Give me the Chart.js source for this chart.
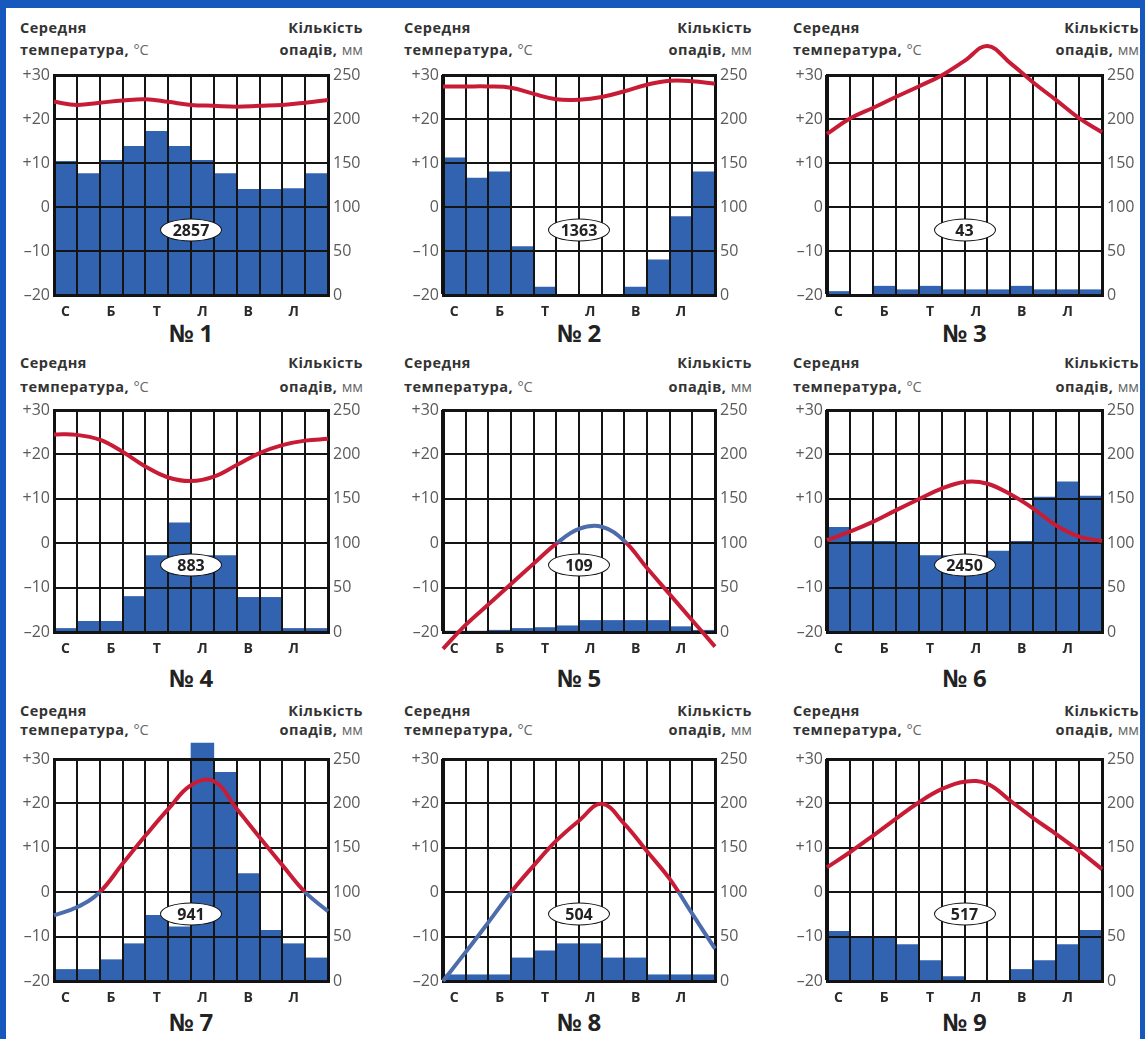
<!DOCTYPE html>
<html>
<head>
<meta charset="utf-8">
<script src="https://cdn.jsdelivr.net/npm/chart.js@4.4.0/dist/chart.umd.min.js"></script>
<style>
  body { margin: 0; width: 1145px; height: 1039px; background: #1658bd; overflow: hidden; font-family: 'Open Sans', sans-serif; }
  #sheet { position: absolute; left: 6px; top: 8px; width: 1134px; height: 1031px; background: #fff; }
  canvas { position: absolute; }
  .txt { position: absolute; white-space: nowrap; line-height: 1; color: #333; transform: translateY(-50%); }
  .hdr { font-size: 14.5px; font-weight: 700; letter-spacing: 0.5px; }
  .unit { font-weight: 400; color: #666; letter-spacing: 0; }
  .num { font-size: 24px; font-weight: 700; color: #222; transform: translate(-50%, -50%); }
  .oval { position: absolute; width: 60px; height: 21px; border: 1.5px solid #111; border-radius: 50%; background: #fff;
          font-size: 16px; font-weight: 700; color: #222; text-align: center; line-height: 21px; transform: translate(-50%, -50%); }
</style>
</head>
<body>
<div id="sheet"></div>
<script>
// month labels under the plot (every second month is named)
const months = ['С', '', 'Б', '', 'Т', '', 'Л', '', 'В', '', 'Л', ''];

// precipitation, mm per month
const precip1 = [152, 138, 153, 169, 186, 169, 153, 138, 120, 120, 121, 138];
const precip2 = [156, 133, 140, 55, 9, 0, 0, 0, 9, 40, 89, 140];
const precip3 = [4, 0, 10, 6, 10, 6, 6, 6, 10, 6, 6, 6];
const precip4 = [4, 12, 12, 40, 86, 123, 86, 86, 39, 39, 4, 4];
const precip5 = [1, 1, 2, 4, 5, 7, 13, 13, 13, 13, 6, 2];
const precip6 = [118, 102, 102, 99, 86, 86, 86, 91, 102, 152, 169, 153];
const precip7 = [13, 13, 24, 42, 74, 61, 268, 235, 121, 57, 42, 26];
const precip8 = [7, 7, 7, 26, 34, 42, 42, 26, 26, 7, 7, 7];
const precip9 = [56, 48, 48, 41, 23, 5, 0, 0, 13, 23, 41, 57];

// temperature curve, °C, read at the 13 month gridlines
const temp1 = [23.9, 23.2, 23.7, 24.2, 24.5, 23.9, 23.2, 23.0, 22.8, 23.0, 23.2, 23.7, 24.3];
const temp2 = [27.4, 27.4, 27.4, 27.1, 25.7, 24.5, 24.4, 25.0, 26.3, 27.8, 28.7, 28.6, 28.0];
const temp3 = [16.6, 20.1, 22.5, 25.0, 27.4, 29.9, 33.2, 36.6, 32.7, 28.3, 24.3, 20.2, 17.0];
const temp4 = [24.5, 24.4, 23.3, 20.6, 17.3, 14.8, 14.0, 15.0, 17.6, 20.3, 22.1, 23.1, 23.5];
const temp5 = [-23.8, -18.4, -13.8, -9.2, -4.6, -0.1, 3.2, 3.7, 0.5, -5.6, -11.5, -17.4, -23.3];
const temp6 = [0.7, 2.6, 4.8, 7.4, 9.9, 12.3, 13.8, 13.4, 11.0, 7.8, 4.0, 1.5, 0.5];
const temp7 = [-5.2, -3.4, 0, 6.4, 12.7, 18.7, 24.1, 25.0, 18.8, 12.4, 6.1, 0, -4.3];
const temp8 = [-20, -13.5, -6.8, 0, 6.0, 11.6, 16.1, 19.9, 15.4, 9.2, 3.0, -4.9, -12.7];
const temp9 = [5.6, 9.0, 12.7, 16.5, 20.2, 23.2, 24.9, 24.4, 20.6, 16.7, 13.1, 9.3, 5.2];

// annual precipitation written in the oval
const totals = ['2857', '1363', '43', '883', '109', '2450', '941', '504', '517'];

const precips = [precip1, precip2, precip3, precip4, precip5, precip6, precip7, precip8, precip9];
const temps = [temp1, temp2, temp3, temp4, temp5, temp6, temp7, temp8, temp9];

// page layout (pixels)
const colLeft = [54, 443, 827];
const colWidth = [274, 272, 275];
const rowTop = [75, 410, 759];
const rowHeight = [220, 222, 222];
const hdrY1 = [28, 363, 711];
const hdrY2 = [50, 387, 730];
const titleY = [333, 678, 1022];
const hdrLeft = [20, 404, 793];
const hdrRight = [363, 752, 1139];

const RED = '#c81c36';
const BLUE = '#4d6cab';
const BAR = '#3263b0';
const GRID = '#141414';
// chart 5 has its colours the other way round
const swapped = [false, false, false, false, true, false, false, false, false];

const AXIS_W = 53;
const TOP_PAD = 40;
const X_H = 35;

function addText(cls, html, x, y, alignRight) {
    const d = document.createElement('div');
    d.className = cls;
    d.innerHTML = html;
    d.style.top = y + 'px';
    if (alignRight) d.style.right = (1145 - x) + 'px';
    else d.style.left = x + 'px';
    document.body.appendChild(d);
    return d;
}

function addCanvas(plotL, plotT, plotW, plotH) {
    const c = document.createElement('canvas');
    c.width = plotW + 2 * AXIS_W;
    c.height = plotH + TOP_PAD + X_H;
    c.style.left = (plotL - AXIS_W) + 'px';
    c.style.top = (plotT - TOP_PAD) + 'px';
    document.body.appendChild(c);
    return c;
}

function tempLabel(v) {
    if (v > 0) return '+' + v;
    if (v < 0) return '–' + Math.abs(v);
    return '0';
}

for (let i = 0; i < 9; i++) {
    const row = Math.floor(i / 3), col = i % 3;
    const plotL = colLeft[col], plotW = colWidth[col];
    const plotT = rowTop[row], plotH = rowHeight[row];
    const warm = swapped[i] ? BLUE : RED;
    const cold = swapped[i] ? RED : BLUE;

    addText('txt hdr', 'Середня', hdrLeft[col], hdrY1[row]);
    addText('txt hdr', 'температура, <span class="unit">°С</span>', hdrLeft[col], hdrY2[row]);
    addText('txt hdr', 'Кількість', hdrRight[col], hdrY1[row], true);
    addText('txt hdr', 'опадів, <span class="unit">мм</span>', hdrRight[col], hdrY2[row], true);
    addText('txt num', '№ ' + (i + 1), plotL + plotW / 2, titleY[row]);

    // bars, grid and axes (grid drawn over the bars)
    new Chart(addCanvas(plotL, plotT, plotW, plotH), {
        type: 'bar',
        data: {
            labels: months,
            datasets: [{
                data: precips[i],
                yAxisID: 'p',
                backgroundColor: BAR,
                borderWidth: 0,
                barPercentage: 1,
                categoryPercentage: 1,
                clip: false
            }]
        },
        options: {
            responsive: false,
            animation: false,
            events: [],
            layout: { padding: { top: TOP_PAD, left: 0, right: 0, bottom: 0 } },
            plugins: { legend: { display: false }, tooltip: { enabled: false } },
            scales: {
                x: {
                    offset: true,
                    grid: {
                        offset: true,
                        z: 1,
                        color: GRID,
                        lineWidth: c => (c.index === 0 || c.index === 12 ? 3 : 2),
                        drawTicks: false
                    },
                    border: { display: true, color: '#111', width: 3, z: 1 },
                    ticks: {
                        autoSkip: false,
                        maxRotation: 0,
                        padding: 9,
                        color: '#2b2b2b',
                        font: { family: 'Open Sans', size: 14, weight: 'bold' }
                    },
                    afterFit: s => { s.height = X_H; }
                },
                t: {
                    type: 'linear',
                    position: 'left',
                    min: -20,
                    max: 30,
                    grid: {
                        z: 1,
                        color: GRID,
                        lineWidth: c => (c.tick && c.tick.value === 30 ? 3 : 2),
                        drawTicks: false
                    },
                    border: { display: true, color: '#111', width: 3, z: 1 },
                    ticks: {
                        stepSize: 10,
                        padding: 4,
                        color: '#5a5a5a',
                        font: { family: 'Open Sans', size: 16 },
                        callback: v => tempLabel(v)
                    },
                    afterFit: s => { s.width = AXIS_W; }
                },
                p: {
                    type: 'linear',
                    position: 'right',
                    min: 0,
                    max: 250,
                    grid: { drawOnChartArea: false, drawTicks: false },
                    border: { display: true, color: '#111', width: 3, z: 1 },
                    ticks: {
                        stepSize: 50,
                        padding: 5,
                        color: '#5a5a5a',
                        font: { family: 'Open Sans', size: 16 }
                    },
                    afterFit: s => { s.width = AXIS_W; }
                }
            }
        }
    });

    // temperature curve on top of the grid
    new Chart(addCanvas(plotL, plotT, plotW, plotH), {
        type: 'line',
        data: {
            datasets: [{
                data: temps[i].map((v, k) => ({ x: k, y: v })),
                xAxisID: 'x2',
                yAxisID: 't',
                borderWidth: 4,
                tension: 0.4,
                pointRadius: 0,
                clip: false,
                borderColor: ctx => {
                    const chart = ctx.chart;
                    if (!chart.chartArea) return warm;
                    const h = chart.height;
                    const stop = Math.min(Math.max(chart.scales.t.getPixelForValue(0) / h, 0), 1);
                    const g = chart.ctx.createLinearGradient(0, 0, 0, h);
                    g.addColorStop(0, warm);
                    g.addColorStop(stop, warm);
                    g.addColorStop(stop, cold);
                    g.addColorStop(1, cold);
                    return g;
                }
            }]
        },
        options: {
            responsive: false,
            animation: false,
            events: [],
            layout: { padding: { top: TOP_PAD, left: AXIS_W, right: AXIS_W, bottom: X_H } },
            plugins: { legend: { display: false }, tooltip: { enabled: false } },
            scales: {
                x2: { type: 'linear', display: false, min: 0, max: 12 },
                t: { type: 'linear', display: false, min: -20, max: 30 }
            }
        }
    });

    const oval = document.createElement('div');
    oval.className = 'oval';
    oval.textContent = totals[i];
    oval.style.left = (plotL + plotW / 2) + 'px';
    oval.style.top = (plotT + 155) + 'px';
    document.body.appendChild(oval);
}
</script>
</body>
</html>
